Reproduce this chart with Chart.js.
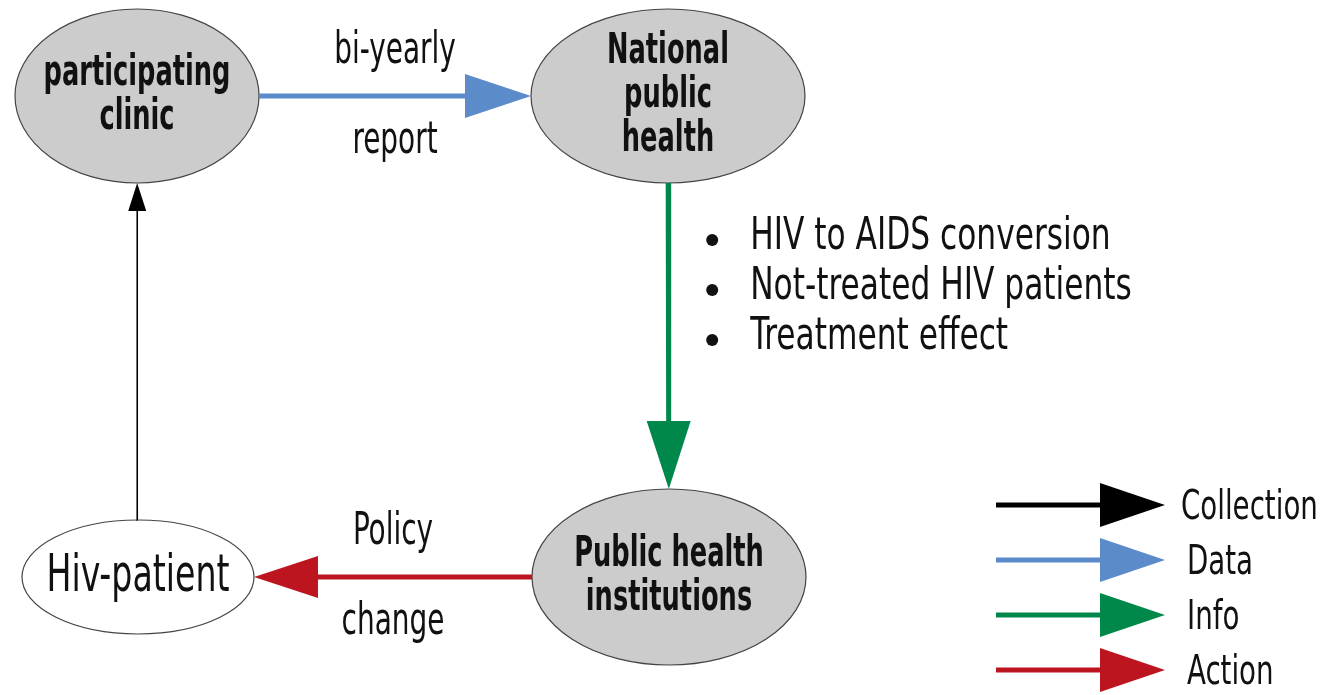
<!DOCTYPE html>
<html>
<head>
<meta charset="utf-8">
<script src="https://cdn.jsdelivr.net/npm/chart.js@4/dist/chart.umd.min.js"></script>
<style>
html, body { margin: 0; padding: 0; background: #fff; }
#wrap { width: 1324px; height: 695px; }
</style>
</head>
<body>
<div id="wrap"><canvas id="flow" width="1324" height="695"></canvas></div>
<script>
// nodes (centre + half axes, in diagram units)
const nodeLabels = [['participating', 'clinic'], ['National', 'public', 'health'], ['Public health', 'institutions'], ['Hiv-patient']];
const nodeX = [137, 668, 669, 138];
const nodeY = [96, 96, 577, 577];
const nodeRX = [122, 137, 137, 116];
const nodeRY = [87, 87, 88, 57];

// edges between nodes
const edgeFrom = [0, 1, 2, 3];
const edgeTo = [1, 2, 3, 0];
const edgeKind = ['Data', 'Info', 'Action', 'Collection'];
const edgeTextAbove = ['bi-yearly', '', 'Policy', ''];
const edgeTextBelow = ['report', '', 'change', ''];

const infoBullets = ['HIV to AIDS conversion', 'Not-treated HIV patients', 'Treatment effect'];

const legendKinds = ['Collection', 'Data', 'Info', 'Action'];

// styling
const FONT = "'DejaVu Sans Condensed', 'DejaVu Sans', sans-serif";
const kindColor = {Collection: '#000000', Data: '#5b8bc9', Info: '#00874a', Action: '#bd1520'};
const kindWidth = {Collection: 1.6, Data: 5, Info: 5, Action: 5};
const kindHead = {Collection: [28, 9], Data: [66, 22], Info: [68, 22], Action: [64, 21]}; // length, half width
const nodeFill = ['#cccccc', '#cccccc', '#cccccc', '#ffffff'];
const nodeFont = ['bold 42px', 'bold 42px', 'bold 42px', '52px'];
const nodeSqueeze = [0.68, 0.68, 0.68, 0.71];
const legendBox = {x0: 996, x1: 1165, textX: 1181, y0: 505, step: 55, head: [65, 22], width: 5};
const bulletBox = {dx: 44, textDx: 82, y0: 240, step: 50};

function edgeEnds(i) {
    const a = edgeFrom[i], b = edgeTo[i];
    let dx = nodeX[b] - nodeX[a], dy = nodeY[b] - nodeY[a];
    const len = Math.hypot(dx, dy);
    dx /= len; dy /= len;
    const ta = 1 / Math.hypot(dx / nodeRX[a], dy / nodeRY[a]);
    const tb = 1 / Math.hypot(dx / nodeRX[b], dy / nodeRY[b]);
    return {
        x0: nodeX[a] + dx * ta, y0: nodeY[a] + dy * ta,
        x1: nodeX[b] - dx * tb, y1: nodeY[b] - dy * tb,
        dx: dx, dy: dy,
    };
}

const datasets = [];
edgeKind.forEach((kind, i) => {
    const e = edgeEnds(i);
    const hl = kindHead[kind][0];
    datasets.push({
        data: [{x: e.x0, y: e.y0}, {x: e.x1 - e.dx * hl, y: e.y1 - e.dy * hl}],
        borderColor: kindColor[kind],
        borderWidth: kindWidth[kind],
    });
});
legendKinds.forEach((kind, i) => {
    const y = legendBox.y0 + legendBox.step * i;
    datasets.push({
        data: [{x: legendBox.x0, y: y}, {x: legendBox.x1 - legendBox.head[0], y: y}],
        borderColor: kindColor[kind],
        borderWidth: legendBox.width,
    });
});

function head(ctx, tx, ty, dx, dy, len, hw, color) {
    const bx = tx - dx * len, by = ty - dy * len;
    ctx.beginPath();
    ctx.moveTo(tx, ty);
    ctx.lineTo(bx - dy * hw, by + dx * hw);
    ctx.lineTo(bx + dy * hw, by - dx * hw);
    ctx.closePath();
    ctx.fillStyle = color;
    ctx.fill();
}

// the reference font is much narrower than anything installed, so squash it
function squeezed(ctx, t, x, y, sx, align) {
    ctx.save();
    ctx.translate(x, y);
    ctx.scale(sx, 1);
    ctx.textAlign = align;
    ctx.textBaseline = 'middle';
    ctx.fillText(t, 0, 0);
    ctx.restore();
}

const flowPlugin = {
    id: 'flow',
    beforeDatasetsDraw(chart) {
        const ctx = chart.ctx, xs = chart.scales.x, ys = chart.scales.y;
        ctx.save();
        nodeLabels.forEach((lines, i) => {
            const cx = xs.getPixelForValue(nodeX[i]), cy = ys.getPixelForValue(nodeY[i]);
            const rx = Math.abs(xs.getPixelForValue(nodeX[i] + nodeRX[i]) - cx);
            const ry = Math.abs(ys.getPixelForValue(nodeY[i] + nodeRY[i]) - cy);
            ctx.beginPath();
            ctx.ellipse(cx, cy, rx, ry, 0, 0, Math.PI * 2);
            ctx.fillStyle = nodeFill[i];
            ctx.fill();
            ctx.lineWidth = 1.2;
            ctx.strokeStyle = '#444';
            ctx.stroke();
            ctx.fillStyle = '#111';
            ctx.font = nodeFont[i] + ' ' + FONT;
            const lh = 44;
            lines.forEach((t, j) => {
                squeezed(ctx, t, cx, cy + (j - (lines.length - 1) / 2) * lh, nodeSqueeze[i], 'center');
            });
        });
        ctx.restore();
    },
    afterDatasetsDraw(chart) {
        const ctx = chart.ctx, xs = chart.scales.x, ys = chart.scales.y;
        ctx.save();
        // arrow heads + edge labels
        edgeKind.forEach((kind, i) => {
            const e = edgeEnds(i);
            const tx = xs.getPixelForValue(e.x1), ty = ys.getPixelForValue(e.y1);
            head(ctx, tx, ty, e.dx, e.dy, kindHead[kind][0], kindHead[kind][1], kindColor[kind]);
            const mx = xs.getPixelForValue((e.x0 + e.x1) / 2), my = ys.getPixelForValue((e.y0 + e.y1) / 2);
            ctx.fillStyle = '#111';
            ctx.font = '45px ' + FONT;
            if (edgeTextAbove[i]) squeezed(ctx, edgeTextAbove[i], mx, my - 45, 0.69, 'center');
            if (edgeTextBelow[i]) squeezed(ctx, edgeTextBelow[i], mx, my + 45, 0.69, 'center');
        });
        // info bullets next to the Info edge
        const info = edgeEnds(edgeKind.indexOf('Info'));
        const bx = xs.getPixelForValue(info.x0) + bulletBox.dx;
        ctx.font = '44px ' + FONT;
        infoBullets.forEach((t, j) => {
            const y = bulletBox.y0 + bulletBox.step * j;
            ctx.beginPath();
            ctx.arc(bx, y, 6, 0, Math.PI * 2);
            ctx.fillStyle = '#111';
            ctx.fill();
            squeezed(ctx, t, bx - bulletBox.dx + bulletBox.textDx, y - 2, 0.79, 'left');
        });
        // legend
        legendKinds.forEach((kind, i) => {
            const y = ys.getPixelForValue(legendBox.y0 + legendBox.step * i);
            head(ctx, xs.getPixelForValue(legendBox.x1), y, 1, 0, legendBox.head[0], legendBox.head[1], kindColor[kind]);
            ctx.fillStyle = '#111';
            ctx.font = '41px ' + FONT;
            squeezed(ctx, kind, xs.getPixelForValue(legendBox.textX) + (i ? 6 : 0), y + 3, 0.75, 'left');
        });
        ctx.restore();
    },
};

new Chart(document.getElementById('flow'), {
    type: 'scatter',
    data: {datasets: datasets.map(d => Object.assign({
        showLine: true, pointRadius: 0, fill: false, tension: 0, borderCapStyle: 'butt',
    }, d))},
    options: {
        responsive: false,
        animation: false,
        devicePixelRatio: 1,
        events: [],
        layout: {padding: 0},
        scales: {
            x: {type: 'linear', min: 0, max: 1324, display: false},
            y: {type: 'linear', min: 0, max: 695, reverse: true, display: false},
        },
        plugins: {legend: {display: false}, tooltip: {enabled: false}},
    },
    plugins: [flowPlugin],
});
</script>
</body>
</html>
